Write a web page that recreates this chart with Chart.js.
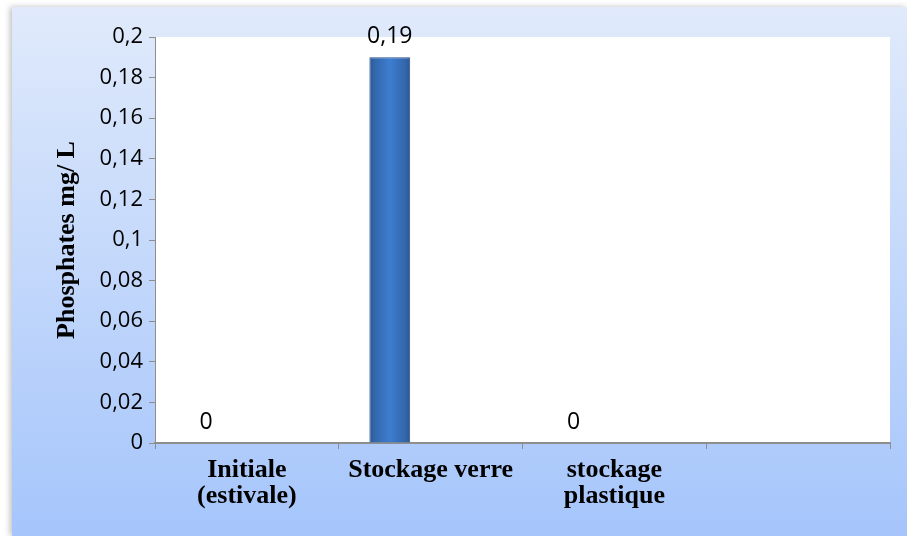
<!DOCTYPE html>
<html>
<head>
<meta charset="utf-8">
<script src="https://cdn.jsdelivr.net/npm/chart.js@4/dist/chart.umd.min.js"></script>
<style>
  html, body { margin: 0; padding: 0; background: #ffffff; }
  #wrap { width: 907px; height: 536px; }
</style>
</head>
<body>
<div id="wrap"><canvas id="chart" width="907" height="536"></canvas></div>
<script>
// categories on the x axis (the last slot is empty in the source chart)
const categories = [['Initiale', '(estivale)'], 'Stockage verre', ['stockage', 'plastique'], '']
// only the first series carries values; the other two are empty slots
const seriesPhosphates = [0, 0.19, 0, null]
const seriesEmptyA = [null, null, null, null]
const seriesEmptyB = [null, null, null, null]
const yTitle = 'Phosphates mg/ L'

const AXIS_GREY = '#8e8e8e'
const SERIF = '"Liberation Serif", "Times New Roman", serif'
const CATEGORY_PCT = 2 / 3
const SERIES_COUNT = 3

/** @param {number} v */
const frNumber = (v) => String(Math.round(v * 100) / 100).replace('.', ',')

const backgroundPlugin = {
  id: 'background',
  beforeDraw(chart) {
    const { ctx, width, height, chartArea } = chart
    ctx.save()
    ctx.fillStyle = '#ffffff'
    ctx.fillRect(0, 0, width, height)
    // soft shadow on the left edge of the chart frame
    ctx.shadowColor = 'rgba(0,0,0,0.25)'
    ctx.shadowBlur = 6
    ctx.shadowOffsetX = -2
    const grad = ctx.createLinearGradient(0, 7, 0, height)
    grad.addColorStop(0, '#e0eafb')
    grad.addColorStop(1, '#a5c5fb')
    ctx.fillStyle = grad
    ctx.fillRect(12, 7, width - 12, height - 7)
    ctx.shadowColor = 'transparent'
    ctx.fillStyle = '#ffffff'
    ctx.fillRect(chartArea.left, chartArea.top, chartArea.right - chartArea.left, chartArea.bottom - chartArea.top)
    ctx.restore()
  },
}

/**
 * Horizontal shading across each bar of the first series (darker edges, lighter middle).
 * @param {any} c scriptable context
 */
function barShade(c) {
  const { chart, dataIndex } = c
  const xScale = chart.scales.x
  if (!xScale || !chart.chartArea) return '#3a74c4'
  const catW = xScale.width / categories.length
  const barW = (catW * CATEGORY_PCT) / SERIES_COUNT
  const center = xScale.getPixelForValue(dataIndex) - barW
  const g = chart.ctx.createLinearGradient(center - barW / 2, 0, center + barW / 2, 0)
  g.addColorStop(0, '#2b5593')
  g.addColorStop(0.12, '#3366aa')
  g.addColorStop(0.5, '#3d7dd0')
  g.addColorStop(0.88, '#3366aa')
  g.addColorStop(1, '#2b5593')
  return g
}

const valueLabelPlugin = {
  id: 'valueLabels',
  afterDatasetsDraw(chart) {
    const { ctx } = chart
    const meta = chart.getDatasetMeta(0)
    ctx.save()
    ctx.font = '23px "Open Sans", sans-serif'
    ctx.fillStyle = '#000000'
    ctx.textAlign = 'center'
    ctx.textBaseline = 'middle'
    meta.data.forEach((bar, i) => {
      const v = seriesPhosphates[i]
      if (v == null) return
      /** @type {any} */
      const el = bar
      ctx.fillText(frNumber(v), el.x, el.y - 21)
    })
    ctx.restore()
  },
}

new Chart(document.getElementById('chart'), {
  type: 'bar',
  data: {
    labels: categories,
    datasets: [
      { data: seriesPhosphates, backgroundColor: barShade, borderColor: '#27508c', borderWidth: 1 },
      { data: seriesEmptyA, backgroundColor: '#c0504d' },
      { data: seriesEmptyB, backgroundColor: '#9bbb59' },
    ],
  },
  options: {
    responsive: false,
    animation: false,
    categoryPercentage: CATEGORY_PCT,
    barPercentage: 1,
    layout: { padding: { left: 12, top: 37, right: 17, bottom: 0 } },
    plugins: {
      legend: { display: false },
      tooltip: { enabled: false },
    },
    scales: {
      x: {
        afterFit: (scale) => { scale.height = 93 },
        border: { color: AXIS_GREY, width: 2 },
        grid: { offset: true, drawOnChartArea: false, color: AXIS_GREY, tickLength: 6, lineWidth: 1 },
        ticks: {
          color: '#000000',
          padding: 8,
          maxRotation: 0,
          autoSkip: false,
          font: { family: SERIF, size: 26, weight: 'bold', lineHeight: 1.02 },
        },
      },
      y: {
        min: 0,
        max: 0.2,
        afterFit: (scale) => { scale.width = 143 },
        border: { color: AXIS_GREY, width: 1 },
        grid: { drawOnChartArea: false, color: AXIS_GREY, tickLength: 6 },
        ticks: {
          stepSize: 0.02,
          color: '#000000',
          padding: 6,
          font: { family: '"Open Sans", sans-serif', size: 22 },
          callback: (value) => frNumber(Number(value)),
        },
        title: {
          display: true,
          text: yTitle,
          color: '#000000',
          padding: { top: 40, bottom: 0 },
          font: { family: SERIF, size: 26, weight: 'bold' },
        },
      },
    },
  },
  plugins: [backgroundPlugin, valueLabelPlugin],
})
</script>
</body>
</html>
